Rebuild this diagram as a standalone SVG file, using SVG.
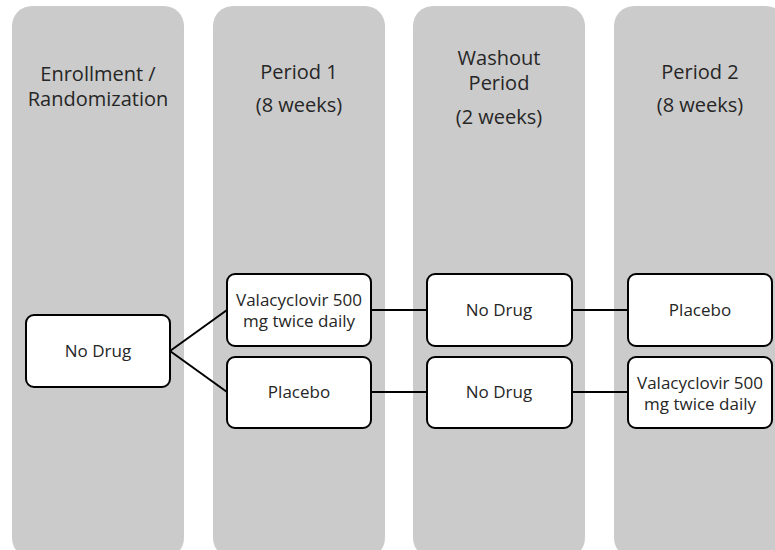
<svg xmlns="http://www.w3.org/2000/svg" width="775" height="550" viewBox="0 0 775 550">
<style>
.col{fill:#cbcbcb}
.box{fill:#fff;stroke:#000;stroke-width:2}
.hd{font-family:"Open Sans","Liberation Sans",sans-serif;font-size:20px;fill:#262626;text-anchor:middle}
.bt{font-family:"Open Sans","Liberation Sans",sans-serif;font-size:17px;fill:#262626;text-anchor:middle}
.ln{stroke:#000;stroke-width:2;fill:none}
</style>
<rect width="775" height="550" fill="#fff"/>
<g id="col-enrollment">
<rect class="col" x="12" y="6" width="172" height="552" rx="20"/>
<text class="hd" x="98" y="81">Enrollment /</text>
<text class="hd" x="98" y="106">Randomization</text>
</g>
<g id="col-period1">
<rect class="col" x="213" y="6" width="172" height="552" rx="20"/>
<text class="hd" x="299" y="79">Period 1</text>
<text class="hd" x="299" y="112">(8 weeks)</text>
</g>
<g id="col-washout">
<rect class="col" x="413" y="6" width="172" height="552" rx="20"/>
<text class="hd" x="499" y="65">Washout</text>
<text class="hd" x="499" y="90">Period</text>
<text class="hd" x="499" y="124">(2 weeks)</text>
</g>
<g id="col-period2">
<rect class="col" x="614" y="6" width="172" height="552" rx="20"/>
<text class="hd" x="700" y="79">Period 2</text>
<text class="hd" x="700" y="112">(8 weeks)</text>
</g>
<g id="connectors">
<path class="ln" d="M170 351 L227 310"/>
<path class="ln" d="M170 351 L227 392"/>
<path class="ln" d="M371 310 H427"/>
<path class="ln" d="M371 392 H427"/>
<path class="ln" d="M572 310 H628"/>
<path class="ln" d="M572 392 H628"/>
</g>
<g id="node-nodrug0">
<rect class="box" x="26" y="315" width="144" height="72" rx="8"/>
<text class="bt" x="98" y="357">No Drug</text>
</g>
<g id="node-val1">
<rect class="box" x="227" y="274" width="144" height="72" rx="8"/>
<text class="bt" x="299" y="306">Valacyclovir 500</text>
<text class="bt" x="299" y="327">mg twice daily</text>
</g>
<g id="node-placebo1">
<rect class="box" x="227" y="357" width="144" height="71" rx="8"/>
<text class="bt" x="299" y="398">Placebo</text>
</g>
<g id="node-nodrug-w1">
<rect class="box" x="427" y="274" width="145" height="72" rx="8"/>
<text class="bt" x="499" y="316">No Drug</text>
</g>
<g id="node-nodrug-w2">
<rect class="box" x="427" y="357" width="145" height="71" rx="8"/>
<text class="bt" x="499" y="398">No Drug</text>
</g>
<g id="node-placebo2">
<rect class="box" x="628" y="274" width="144" height="72" rx="8"/>
<text class="bt" x="700" y="316">Placebo</text>
</g>
<g id="node-val2">
<rect class="box" x="628" y="357" width="144" height="71" rx="8"/>
<text class="bt" x="700" y="389">Valacyclovir 500</text>
<text class="bt" x="700" y="410">mg twice daily</text>
</g>
</svg>
